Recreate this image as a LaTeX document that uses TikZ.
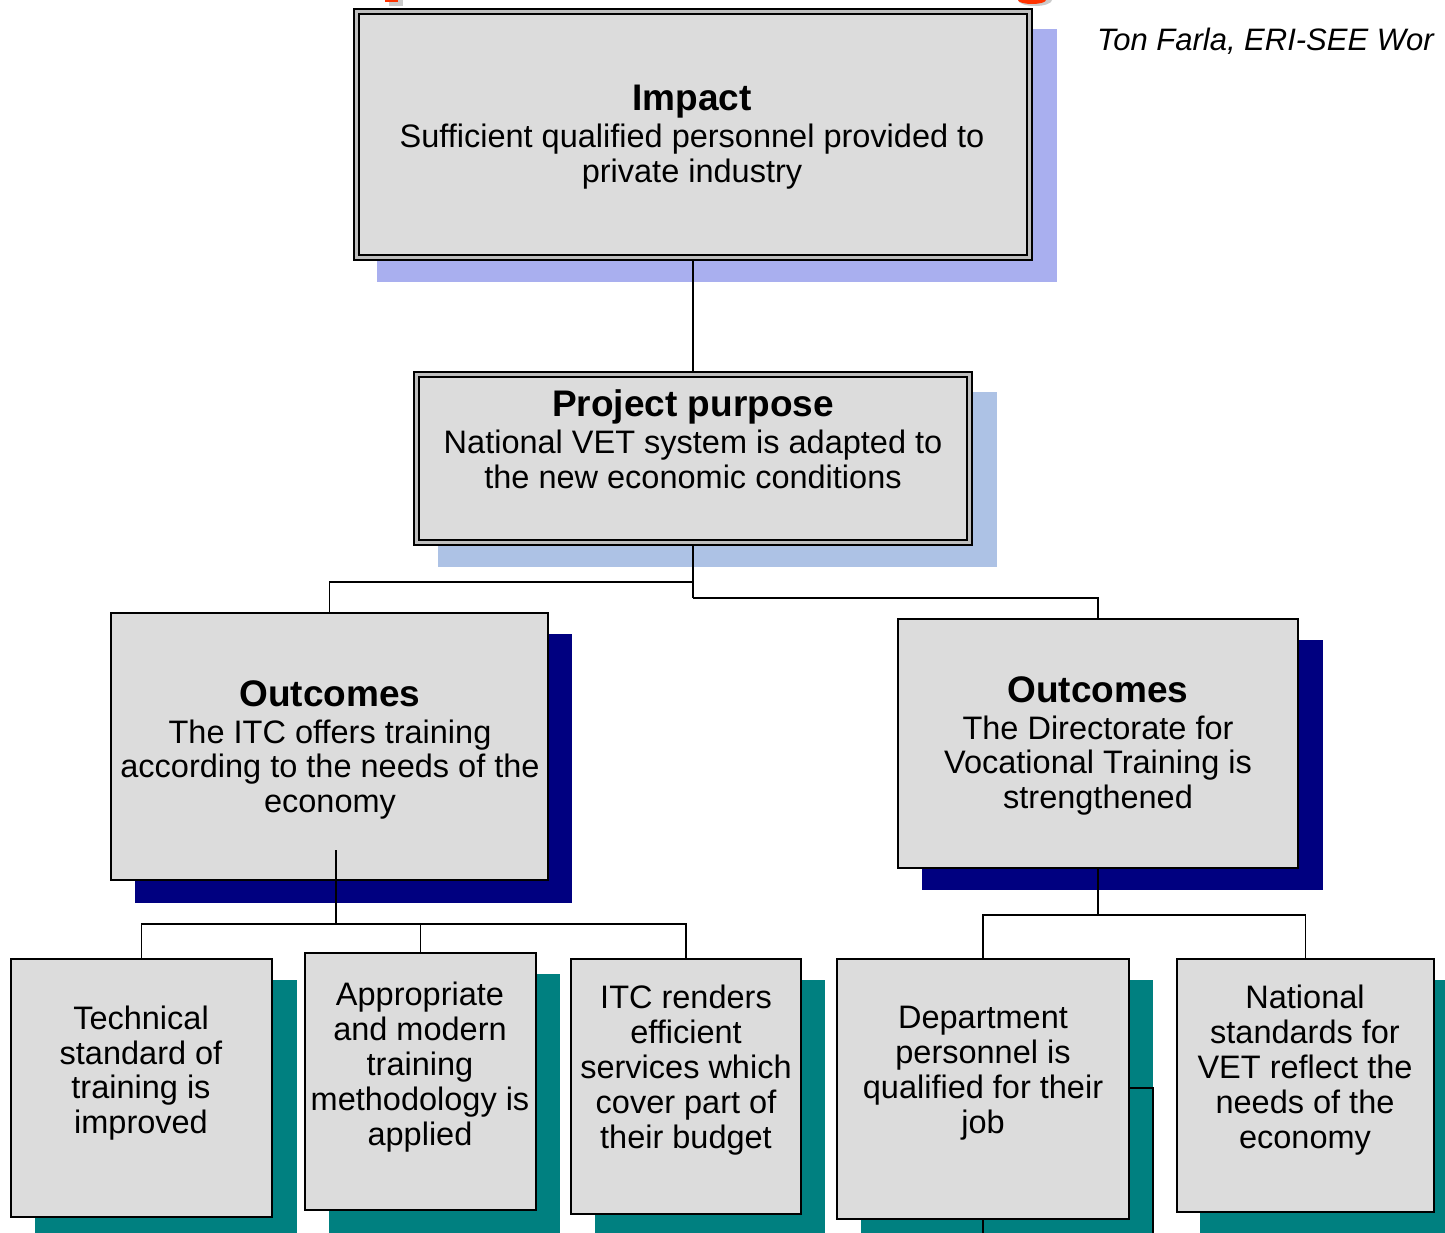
\documentclass[tikz,border=0pt]{standalone}
\usepackage{fontspec}
\setmainfont{Liberation Sans}
\definecolor{boxfill}{HTML}{DCDCDC}
\definecolor{gapgray}{HTML}{BEBEBE}
\definecolor{impshadow}{HTML}{A9AFEF}
\definecolor{purshadow}{HTML}{ADC2E5}
\definecolor{navyshadow}{HTML}{000080}
\definecolor{tealshadow}{HTML}{008080}
\definecolor{titlered}{HTML}{FF3300}
\begin{document}
\begin{tikzpicture}[x=1pt,y=-1pt,
  box/.style={draw=black, line width=1.6pt, fill=boxfill, inner sep=0pt},
  dblbox/.style={draw=black, line width=1.5pt, fill=gapgray, inner sep=0pt},
  innerbox/.style={draw=black, line width=1.5pt, fill=boxfill},
  txt/.style={align=center, font=\fontsize{32.5}{34.8}\selectfont, inner sep=0pt},
  link/.style={draw=black, line width=1.4pt}
]
\newcommand{\hd}[1]{{\fontsize{37}{36}\selectfont\bfseries #1}}
\useasboundingbox (0,0) rectangle (1445,1233);
\fill[white] (0,0) rectangle (1445,1233);

% cropped title fragments
\fill[gapgray!80] (389,0) rectangle (403,6);
\fill[titlered] (385,0) rectangle (398,2.5);
\fill[gapgray!80] (1052,0) arc[start angle=0, end angle=180, x radius=17, y radius=6];
\fill[titlered] (1046,0) arc[start angle=0, end angle=180, x radius=14, y radius=4];

% shadows
\fill[impshadow] (377,29) rectangle (1057,282);
\fill[purshadow] (438,392) rectangle (997,567);
\fill[navyshadow] (135,634) rectangle (572,903);
\fill[navyshadow] (922,640) rectangle (1323,890);
\fill[tealshadow] (35,980) rectangle (297,1240);
\fill[tealshadow] (329,974) rectangle (560,1240);
\fill[tealshadow] (595,980) rectangle (825,1240);
\fill[tealshadow] (861,980) rectangle (1153,1240);
\fill[tealshadow] (1200,980) rectangle (1460,1240);

% boxes
\node[dblbox, minimum width=678pt, minimum height=251pt] (impact) at (693,134.5) {};
\draw[innerbox] (359,14) rectangle (1027,255);
\node[dblbox, minimum width=558pt, minimum height=173pt] (purpose) at (693,458.5) {};
\draw[innerbox] (419,377) rectangle (967,540);
\node[box, minimum width=437pt, minimum height=267pt] (outL) at (329.5,746.5) {};
\node[box, minimum width=400pt, minimum height=249pt] (outR) at (1098,743.5) {};
\node[box, minimum width=261pt, minimum height=258pt] (b1) at (141.5,1088) {};
\node[box, minimum width=231pt, minimum height=257pt] (b2) at (420.5,1081.5) {};
\node[box, minimum width=230pt, minimum height=255pt] (b3) at (686,1086.5) {};
\node[box, minimum width=292pt, minimum height=260pt] (b4) at (983,1089) {};
\node[box, minimum width=257pt, minimum height=253pt] (b5) at (1305.5,1085.5) {};

% texts
\node[txt] (timpact) at (692,137) {\hd{Impact}\\[2pt]Sufficient qualified personnel provided to\\private industry};
\node[txt] (tpurpose) at (693,439.5) {\hd{Project purpose}\\[2pt]National VET system is adapted to\\the new economic conditions};
\node[txt] (toutL) at (330,750) {\hd{Outcomes}\\[2pt]The ITC offers training\\according to the needs of the\\economy};
\node[txt] (toutR) at (1098,746) {\hd{Outcomes}\\[2pt]The Directorate for\\Vocational Training is\\strengthened};
\node[txt] (tb1) at (141,1073) {Technical\\standard of\\training is\\improved};
\node[txt] (tb2) at (420,1067) {Appropriate\\and modern\\training\\methodology is\\applied};
\node[txt] (tb3) at (686,1070) {ITC renders\\efficient\\services which\\cover part of\\their budget};
\node[txt] (tb4) at (983,1073) {Department\\personnel is\\qualified for their\\job};
\node[txt] (tb5) at (1305,1070) {National\\standards for\\VET reflect the\\needs of the\\economy};

\node[anchor=base west, inner sep=0pt, font=\fontsize{31}{34}\selectfont\itshape] (author) at (1097,51) {Ton Farla, ERI-SEE Wor};

% connectors
\coordinate (jL) at (693,582);
\coordinate (jR) at (693,598);
\draw[link] (impact.south) -- (purpose.north);
\draw[link] (purpose.south) -- (jR);
\draw[link] (jL) -| (outL.north);
\draw[link] (jR) -| (outR.north);

\coordinate (oLs) at (336,850);
\coordinate (oLj) at (336,924);
\draw[link] (oLs) -- (oLj);
\draw[link] (b1.north) |- (oLj);
\draw[link] (oLj) -| (b3.north);
\draw[link] (b2.north) -- (b2.north |- oLj);

\coordinate (oRj) at (1098,915);
\draw[link] (outR.south) -- (oRj);
\draw[link] (b4.north) |- (oRj);
\draw[link] (oRj) -| (b5.north);

% stray connector fragments at the bottom
\coordinate (s1) at (1153,1088);
\coordinate (s2) at (1153,1240);
\coordinate (s3) at (983,1240);
\draw[link] (b4.east |- s1) -- (s1) -- (s2);
\draw[link] (b4.south) -- (s3);
\end{tikzpicture}
\end{document}
